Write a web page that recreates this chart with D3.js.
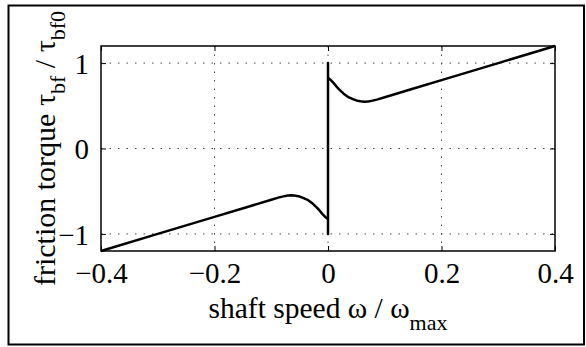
<!DOCTYPE html>
<html>
<head>
<meta charset="utf-8">
<style>
  body { margin: 0; background: #fff; }
  svg text { font-family: "Liberation Serif", "Times New Roman", serif; fill: #000; }
</style>
</head>
<body>
<div id="chart"></div>
<script src="https://cdn.jsdelivr.net/npm/d3@7"></script>
<script>
// values (friction curve, normalised)
var omega = [-0.4, -0.3, -0.2, -0.145, -0.1, -0.086, -0.075, -0.07, -0.065, -0.06, -0.055, -0.05, -0.045, -0.035, -0.027, -0.02, -0.015, -0.01, -0.005, 0,
             0, 0, 0,
             0.005, 0.01, 0.015, 0.02, 0.027, 0.035, 0.045, 0.05, 0.055, 0.06, 0.065, 0.07, 0.075, 0.086, 0.1, 0.145, 0.2, 0.3, 0.4];
var torque = [-1.2, -1.0, -0.8, -0.69, -0.6, -0.572, -0.555, -0.549, -0.547, -0.549, -0.555, -0.563, -0.575, -0.605, -0.645, -0.69, -0.725, -0.765, -0.8, -0.83,
              -1.0, 1.0, 0.83,
              0.8, 0.765, 0.725, 0.69, 0.645, 0.605, 0.575, 0.563, 0.555, 0.549, 0.547, 0.549, 0.555, 0.572, 0.6, 0.69, 0.8, 1.0, 1.2];
var xTicks = [-0.4, -0.2, 0, 0.2, 0.4];
var yTicks = [-1, 0, 1];

var W = 586, H = 347;
var box = { left: 101, right: 555, top: 46, bottom: 251 };
var serif = "Liberation Serif";

var svg = d3.select("#chart").append("svg")
    .attr("width", W)
    .attr("height", H);

// outer frame
svg.append("rect")
    .attr("x", 8.5).attr("y", 5.5)
    .attr("width", 575.5).attr("height", 339)
    .attr("fill", "none").attr("stroke", "#000").attr("stroke-width", 2);

var x = d3.scaleLinear().domain([-0.4, 0.4]).range([box.left, box.right]);
var y = d3.scaleLinear().domain([-1.2, 1.2]).range([box.bottom, box.top]);

var fmt = function(d) { return d3.format("~g")(d); };

// dotted grid
svg.append("g").selectAll("line")
    .data(xTicks.slice(1, -1))
    .enter().append("line")
        .attr("x1", function(d) { return x(d); })
        .attr("x2", function(d) { return x(d); })
        .attr("y1", box.top).attr("y2", box.bottom)
        .attr("stroke", "#444").attr("stroke-width", 1)
        .attr("stroke-dasharray", "1.5,7");
svg.append("g").selectAll("line")
    .data(yTicks)
    .enter().append("line")
        .attr("y1", function(d) { return y(d); })
        .attr("y2", function(d) { return y(d); })
        .attr("x1", box.left).attr("x2", box.right)
        .attr("stroke", "#444").attr("stroke-width", 1)
        .attr("stroke-dasharray", "1.5,7");

// axes (ticks pointing inward)
var xAxis = svg.append("g")
    .attr("transform", "translate(0," + box.bottom + ")")
    .call(d3.axisBottom(x).tickValues(xTicks).tickFormat(fmt).tickSizeInner(-5).tickSizeOuter(0).tickPadding(11));
var xAxisTop = svg.append("g")
    .attr("transform", "translate(0," + box.top + ")")
    .call(d3.axisTop(x).tickValues(xTicks).tickFormat("").tickSizeInner(-5).tickSizeOuter(0));
var yAxis = svg.append("g")
    .attr("transform", "translate(" + box.left + ",0)")
    .call(d3.axisLeft(y).tickValues(yTicks).tickFormat(fmt).tickSizeInner(-5).tickSizeOuter(0).tickPadding(12));
var yAxisRight = svg.append("g")
    .attr("transform", "translate(" + box.right + ",0)")
    .call(d3.axisRight(y).tickValues(yTicks).tickFormat("").tickSizeInner(-5).tickSizeOuter(0));

[xAxis, xAxisTop, yAxis, yAxisRight].forEach(function(g) {
    g.attr("font-family", serif).attr("font-size", 29);
    g.select(".domain").remove();
    g.selectAll(".tick line").attr("stroke", "#000").attr("stroke-width", 1);
    g.selectAll("text").attr("fill", "#000");
});
xAxis.selectAll("text").attr("dy", "0.71em");
yAxis.selectAll("text").attr("dy", "0.35em");

// box
svg.append("rect")
    .attr("x", box.left).attr("y", box.top)
    .attr("width", box.right - box.left).attr("height", box.bottom - box.top)
    .attr("fill", "none").attr("stroke", "#000").attr("stroke-width", 1.5);

// curve
var line = d3.line()
    .x(function(d) { return x(d[0]); })
    .y(function(d) { return y(d[1]); });
svg.append("path")
    .datum(d3.zip(omega, torque))
    .attr("d", line)
    .attr("fill", "none").attr("stroke", "#000")
    .attr("stroke-width", 2.5).attr("stroke-linejoin", "round");

// axis labels
var xl = svg.append("text")
    .attr("x", (box.left + box.right) / 2).attr("y", 318)
    .attr("text-anchor", "middle").attr("font-size", 29.5);
xl.append("tspan").text("shaft speed \u03c9 / \u03c9");
xl.append("tspan").attr("dy", 12).attr("font-size", 22).text("max");

var yl = svg.append("text")
    .attr("transform", "translate(55," + ((box.top + box.bottom) / 2) + ") rotate(-90)")
    .attr("text-anchor", "middle").attr("font-size", 30);
yl.append("tspan").text("friction torque \u03c4");
yl.append("tspan").attr("dy", 10).attr("font-size", 22).text("bf");
yl.append("tspan").attr("dy", -10).text(" / \u03c4");
yl.append("tspan").attr("dy", 10).attr("font-size", 22).text("bf0");
</script>
</body>
</html>
